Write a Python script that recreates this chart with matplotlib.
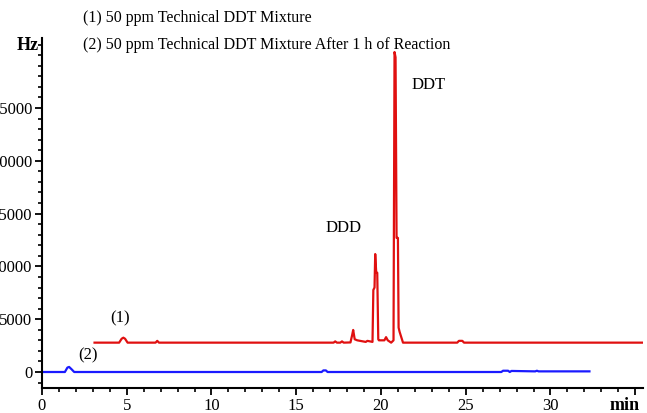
import numpy as np
import matplotlib.pyplot as plt
from matplotlib.ticker import MultipleLocator

# chromatogram (1): technical DDT mixture, retention time (min) / signal (Hz)
red_t = [3.1, 4.55, 4.7, 4.8, 4.9, 5.05, 6.7, 6.8, 6.9,
         17.2, 17.3, 17.4, 17.6, 17.7, 17.8, 18.2, 18.3, 18.36, 18.45, 18.6,
         19.1, 19.2, 19.35, 19.5, 19.55, 19.62, 19.66, 19.72, 19.78, 19.84, 19.88,
         20.2, 20.3, 20.4, 20.6, 20.74, 20.8, 20.86, 20.92, 21.0, 21.04, 21.1,
         21.3, 24.5, 24.6, 24.8, 24.9, 35.5]
red_y = [2780, 2780, 3150, 3250, 3150, 2780, 2780, 2950, 2780,
         2780, 2900, 2780, 2780, 2900, 2780, 2800, 3500, 3980, 3100, 3000,
         2850, 2950, 2900, 2850, 7770, 8000, 11170, 9400, 9400, 3100, 3000,
         3000, 3300, 3000, 2780, 3000, 30300, 29800, 12700, 12700, 4200, 3800,
         2780, 2780, 2950, 2950, 2780, 2780]

# chromatogram (2): after 1 h of reaction
blue_t = [0.0, 1.35, 1.5, 1.6, 1.75, 1.9, 16.5, 16.6, 16.75, 16.85,
          27.1, 27.2, 27.5, 27.6, 27.7, 29.1, 29.2, 29.3, 32.3]
blue_y = [0, 0, 420, 480, 250, 0, 0, 150, 150, 0,
          0, 120, 120, 0, 100, 60, 120, 60, 60]

x_ticks = [0, 5, 10, 15, 20, 25, 30, 35]
x_labels = ['0', '5', '10', '15', '20', '25', '30', '']
y_ticks = [0, 5000, 10000, 15000, 20000, 25000]

plt.rcParams['font.family'] = ['Liberation Serif', 'DejaVu Serif']

fig = plt.figure(figsize=(6.47, 4.13), dpi=100)
ax = fig.add_axes([42 / 647, 25 / 413, 601 / 647, 350 / 413])

ax.plot(red_t, red_y, color='#e01010', lw=1.6)
ax.plot(blue_t, blue_y, color='#1a1aff', lw=1.6)

ax.set_xlim(0, 35.46)
ax.set_ylim(-1515, 31630)
for s in ['top', 'right']:
    ax.spines[s].set_visible(False)
ax.spines['left'].set_linewidth(1.5)
ax.spines['bottom'].set_linewidth(1.5)

ax.set_xticks(x_ticks, x_labels)
ax.set_yticks(y_ticks)
ax.xaxis.set_minor_locator(MultipleLocator(1))
ax.yaxis.set_minor_locator(MultipleLocator(1000))
ax.tick_params(which='major', length=5, width=1.3, labelsize=12, pad=2)
ax.tick_params(which='minor', length=3, width=1.2)

ax.text(2.7, 1600, '(2)', fontsize=12, ha='center', va='center')
ax.text(4.6, 5100, '(1)', fontsize=12, ha='center', va='center')
ax.text(17.8, 13600, 'DDD', fontsize=12, ha='center', va='center')
ax.text(22.8, 27200, 'DDT', fontsize=12, ha='center', va='center')

fig.text(83 / 647, 1 - 18 / 413, '(1) 50 ppm Technical DDT Mixture', fontsize=11.5, va='center')
fig.text(83 / 647, 1 - 45 / 413, '(2) 50 ppm Technical DDT Mixture After 1 h of Reaction',
         fontsize=11.5, va='center')
fig.text(39 / 647, 1 - 45 / 413, 'Hz', fontsize=13, fontweight='bold', ha='right', va='center')
fig.text(625 / 647, 1 - 406 / 413, 'min', fontsize=13, fontweight='bold', ha='center', va='center')

fig.savefig('out.png', dpi=100)
